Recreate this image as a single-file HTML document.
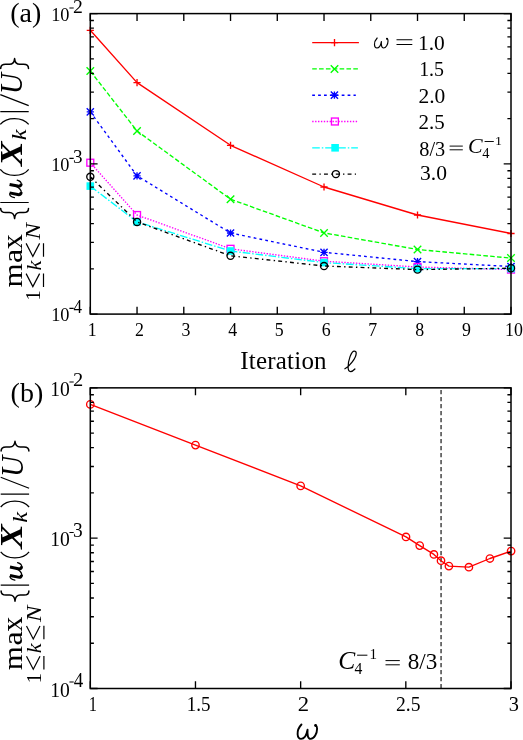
<!DOCTYPE html><html><head><meta charset="utf-8"><title>fig</title><style>html,body{margin:0;padding:0;background:#fff}svg{display:block;will-change:transform}text{font-family:"Liberation Serif",serif;fill:#000}</style></head><body>
<svg width="523" height="740" viewBox="0 0 523 740">
<rect width="523" height="740" fill="#fff"/>
<clipPath id="c1"><rect x="84.3" y="13.6" width="432.7" height="300.5"/></clipPath>
<polyline points="90.30,30.30 137.04,82.60 230.53,145.30 324.02,187.00 417.51,215.00 511.00,233.50" fill="none" stroke="#ff0000" stroke-width="1.35" stroke-linejoin="round"/>
<path d="M86.70 30.30h7.2M90.30 26.70v7.2" stroke="#ff0000" stroke-width="1.35" fill="none"/>
<path d="M133.44 82.60h7.2M137.04 79.00v7.2" stroke="#ff0000" stroke-width="1.35" fill="none"/>
<path d="M226.93 145.30h7.2M230.53 141.70v7.2" stroke="#ff0000" stroke-width="1.35" fill="none"/>
<path d="M320.42 187.00h7.2M324.02 183.40v7.2" stroke="#ff0000" stroke-width="1.35" fill="none"/>
<path d="M413.91 215.00h7.2M417.51 211.40v7.2" stroke="#ff0000" stroke-width="1.35" fill="none"/>
<path d="M507.40 233.50h7.2M511.00 229.90v7.2" stroke="#ff0000" stroke-width="1.35" fill="none"/>
<polyline points="90.30,71.10 137.04,131.00 230.53,199.20 324.02,232.90 417.51,249.50 511.00,258.10" fill="none" stroke="#00ff00" stroke-width="1.35" stroke-dasharray="4.6 2.25" stroke-linejoin="round"/>
<path d="M86.55 67.35l7.5 7.5M86.55 74.85l7.5 -7.5" stroke="#00ff00" stroke-width="1.35" fill="none"/>
<path d="M133.29 127.25l7.5 7.5M133.29 134.75l7.5 -7.5" stroke="#00ff00" stroke-width="1.35" fill="none"/>
<path d="M226.78 195.45l7.5 7.5M226.78 202.95l7.5 -7.5" stroke="#00ff00" stroke-width="1.35" fill="none"/>
<path d="M320.27 229.15l7.5 7.5M320.27 236.65l7.5 -7.5" stroke="#00ff00" stroke-width="1.35" fill="none"/>
<path d="M413.76 245.75l7.5 7.5M413.76 253.25l7.5 -7.5" stroke="#00ff00" stroke-width="1.35" fill="none"/>
<path d="M507.25 254.35l7.5 7.5M507.25 261.85l7.5 -7.5" stroke="#00ff00" stroke-width="1.35" fill="none"/>
<polyline points="90.30,111.90 137.04,175.80 230.53,233.00 324.02,252.30 417.51,261.60 511.00,266.50" fill="none" stroke="#0000ff" stroke-width="1.35" stroke-dasharray="2.75 3.15" stroke-linejoin="round"/>
<path d="M86.70 111.90h7.2M90.30 108.30v7.2M86.70 108.30l7.2 7.2M86.70 115.50l7.2 -7.2" stroke="#0000ff" stroke-width="1.35" fill="none"/>
<path d="M133.44 175.80h7.2M137.04 172.20v7.2M133.44 172.20l7.2 7.2M133.44 179.40l7.2 -7.2" stroke="#0000ff" stroke-width="1.35" fill="none"/>
<path d="M226.93 233.00h7.2M230.53 229.40v7.2M226.93 229.40l7.2 7.2M226.93 236.60l7.2 -7.2" stroke="#0000ff" stroke-width="1.35" fill="none"/>
<path d="M320.42 252.30h7.2M324.02 248.70v7.2M320.42 248.70l7.2 7.2M320.42 255.90l7.2 -7.2" stroke="#0000ff" stroke-width="1.35" fill="none"/>
<path d="M413.91 261.60h7.2M417.51 258.00v7.2M413.91 258.00l7.2 7.2M413.91 265.20l7.2 -7.2" stroke="#0000ff" stroke-width="1.35" fill="none"/>
<path d="M507.40 266.50h7.2M511.00 262.90v7.2M507.40 262.90l7.2 7.2M507.40 270.10l7.2 -7.2" stroke="#0000ff" stroke-width="1.35" fill="none"/>
<polyline points="90.30,162.70 137.04,215.00 230.53,248.80 324.02,261.20 417.51,267.00 511.00,269.60" fill="none" stroke="#ff00ff" stroke-width="1.35" stroke-dasharray="1.4 1.5" stroke-linejoin="round"/>
<rect x="86.85" y="159.25" width="6.9" height="6.9" stroke="#ff00ff" stroke-width="1.35" fill="none"/>
<rect x="133.59" y="211.55" width="6.9" height="6.9" stroke="#ff00ff" stroke-width="1.35" fill="none"/>
<rect x="227.08" y="245.35" width="6.9" height="6.9" stroke="#ff00ff" stroke-width="1.35" fill="none"/>
<rect x="320.57" y="257.75" width="6.9" height="6.9" stroke="#ff00ff" stroke-width="1.35" fill="none"/>
<rect x="414.06" y="263.55" width="6.9" height="6.9" stroke="#ff00ff" stroke-width="1.35" fill="none"/>
<rect x="507.55" y="266.15" width="6.9" height="6.9" stroke="#ff00ff" stroke-width="1.35" fill="none"/>
<polyline points="90.30,186.10 137.04,221.90 230.53,251.00 324.02,262.60 417.51,268.60 511.00,268.60" fill="none" stroke="#00ffff" stroke-width="1.35" stroke-dasharray="7.6 2 1.5 1.9" stroke-linejoin="round"/>
<rect x="86.50" y="182.30" width="7.6000000000000005" height="7.6000000000000005" fill="#00ffff"/>
<rect x="133.24" y="218.10" width="7.6000000000000005" height="7.6000000000000005" fill="#00ffff"/>
<rect x="226.73" y="247.20" width="7.6000000000000005" height="7.6000000000000005" fill="#00ffff"/>
<rect x="320.22" y="258.80" width="7.6000000000000005" height="7.6000000000000005" fill="#00ffff"/>
<rect x="413.71" y="264.80" width="7.6000000000000005" height="7.6000000000000005" fill="#00ffff"/>
<rect x="507.20" y="264.80" width="7.6000000000000005" height="7.6000000000000005" fill="#00ffff"/>
<polyline points="90.30,176.80 137.04,221.90 230.53,255.80 324.02,266.00 417.51,269.60 511.00,268.20" fill="none" stroke="#000000" stroke-width="1.35" stroke-dasharray="3.9 3.3 1.4 3.2" stroke-linejoin="round"/>
<circle cx="90.30" cy="176.80" r="3.55" stroke="#000000" stroke-width="1.35" fill="none"/>
<circle cx="137.04" cy="221.90" r="3.55" stroke="#000000" stroke-width="1.35" fill="none"/>
<circle cx="230.53" cy="255.80" r="3.55" stroke="#000000" stroke-width="1.35" fill="none"/>
<circle cx="324.02" cy="266.00" r="3.55" stroke="#000000" stroke-width="1.35" fill="none"/>
<circle cx="417.51" cy="269.60" r="3.55" stroke="#000000" stroke-width="1.35" fill="none"/>
<circle cx="511.00" cy="268.20" r="3.55" stroke="#000000" stroke-width="1.35" fill="none"/>
<polyline points="312.20,42.60 358.90,42.60" fill="none" stroke="#ff0000" stroke-width="1.35" stroke-linejoin="round"/>
<path d="M330.90 42.60h7.2M334.50 39.00v7.2" stroke="#ff0000" stroke-width="1.35" fill="none"/>
<polyline points="312.20,68.90 358.90,68.90" fill="none" stroke="#00ff00" stroke-width="1.35" stroke-dasharray="4.6 2.25" stroke-linejoin="round"/>
<path d="M330.75 65.15l7.5 7.5M330.75 72.65l7.5 -7.5" stroke="#00ff00" stroke-width="1.35" fill="none"/>
<polyline points="312.20,95.20 355.80,95.20" fill="none" stroke="#0000ff" stroke-width="1.35" stroke-dasharray="2.75 3.15" stroke-linejoin="round"/>
<path d="M330.80 95.20h7.2M334.40 91.60v7.2M330.80 91.60l7.2 7.2M330.80 98.80l7.2 -7.2" stroke="#0000ff" stroke-width="1.35" fill="none"/>
<polyline points="312.20,121.50 357.80,121.50" fill="none" stroke="#ff00ff" stroke-width="1.35" stroke-dasharray="1.4 1.5" stroke-linejoin="round"/>
<rect x="331.45" y="118.05" width="6.9" height="6.9" stroke="#ff00ff" stroke-width="1.35" fill="none"/>
<polyline points="312.20,147.80 357.90,147.80" fill="none" stroke="#00ffff" stroke-width="1.35" stroke-dasharray="7.6 2 1.5 1.9" stroke-linejoin="round"/>
<rect x="331.30" y="144.00" width="7.6000000000000005" height="7.6000000000000005" fill="#00ffff"/>
<polyline points="312.20,174.10 356.00,174.10" fill="none" stroke="#000000" stroke-width="1.35" stroke-dasharray="3.9 3.3 1.4 3.2" stroke-linejoin="round"/>
<circle cx="335.90" cy="174.10" r="3.55" stroke="#000000" stroke-width="1.35" fill="none"/>
<text transform="translate(417.92 49.60) scale(0.9986 1.0012)" font-size="21.47">1.0</text>
<text transform="translate(419.15 76.30) scale(0.9734 1.0277)" font-size="20.49">1.5</text>
<text transform="translate(418.46 102.50) scale(1.0000 1.0003)" font-size="21.49">2.0</text>
<text transform="translate(418.48 128.50) scale(0.9931 1.0073)" font-size="21.14">2.5</text>
<text transform="translate(419.33 155.59) scale(0.9691 1.0318)" font-size="20.97">8/3</text>
<text transform="translate(420.07 179.80) scale(1.0157 0.9848)" font-size="21.23">3.0</text>
<path d="M377.16 38.02C375.33 39.93 374.34 42.37 374.48 44.81C374.62 46.93 375.47 47.99 376.88 47.99C378.99 47.99 380.69 45.55 381.39 41.63C381.11 45.55 381.67 47.99 383.51 47.99C386.04 47.99 388.02 44.17 388.02 40.99C388.02 39.72 387.59 38.87 387.03 38.66" fill="none" stroke="#000" stroke-width="1.15" stroke-linecap="round" stroke-linejoin="round"/><circle cx="386.96" cy="38.71" r="0.99" fill="#000"/>
<path d="M396.5 39.7H412.3M396.5 44.5H412.3" stroke="#000" stroke-width="1.05" fill="none"/>
<path d="M449.6 146.1H462.8M449.6 149.8H462.8M484.6 141.5H493.8" stroke="#000" stroke-width="0.95" fill="none"/>
<text transform="translate(468.08 153.40) scale(1.0006 0.9998)" font-size="21.9" font-style="italic">C</text>
<text transform="translate(494.88 144.90) scale(1.0159 0.9841)" font-size="13.7">1</text>
<text transform="translate(482.22 158.10) scale(1.0208 0.9791)" font-size="14.12">4</text>
<path d="M90.30 314.1v-7.3M90.30 13.6v7.3M137.04 314.1v-7.3M137.04 13.6v7.3M230.53 314.1v-7.3M230.53 13.6v7.3M324.02 314.1v-7.3M324.02 13.6v7.3M417.51 314.1v-7.3M417.51 13.6v7.3M511.00 314.1v-7.3M511.00 13.6v7.3M183.79 314.1v-7.3M183.79 13.6v7.3M277.28 314.1v-7.3M277.28 13.6v7.3M370.77 314.1v-7.3M370.77 13.6v7.3M464.26 314.1v-7.3M464.26 13.6v7.3M90.3 13.60h7.3M511.0 13.60h-7.3M90.3 118.62h3.6M511.0 118.62h-3.6M90.3 92.16h3.6M511.0 92.16h-3.6M90.3 73.39h3.6M511.0 73.39h-3.6M90.3 58.83h3.6M511.0 58.83h-3.6M90.3 46.93h3.6M511.0 46.93h-3.6M90.3 36.87h3.6M511.0 36.87h-3.6M90.3 28.16h3.6M511.0 28.16h-3.6M90.3 20.48h3.6M511.0 20.48h-3.6M90.3 163.85h7.3M511.0 163.85h-7.3M90.3 268.87h3.6M511.0 268.87h-3.6M90.3 242.41h3.6M511.0 242.41h-3.6M90.3 223.64h3.6M511.0 223.64h-3.6M90.3 209.08h3.6M511.0 209.08h-3.6M90.3 197.18h3.6M511.0 197.18h-3.6M90.3 187.12h3.6M511.0 187.12h-3.6M90.3 178.41h3.6M511.0 178.41h-3.6M90.3 170.73h3.6M511.0 170.73h-3.6M90.3 314.10h7.3M511.0 314.10h-7.3" stroke="#000" stroke-width="1.35" fill="none"/>
<rect x="90.3" y="13.6" width="420.70" height="300.50" fill="none" stroke="#000" stroke-width="1.5"/>
<text transform="translate(51.19 20.61) scale(0.9691 1.0316)" font-size="18.89">10</text>
<text transform="translate(73.03 12.60) scale(1.0137 0.9867)" font-size="19.44">2</text>
<text transform="translate(51.19 170.72) scale(0.9863 1.0140)" font-size="18.56">10</text>
<text transform="translate(72.98 162.81) scale(1.0018 0.9980)" font-size="19.09">3</text>
<text transform="translate(51.19 321.41) scale(0.9748 1.0258)" font-size="18.78">10</text>
<text transform="translate(73.57 312.70) scale(0.9457 1.0568)" font-size="17.97">4</text>
<text transform="translate(50.18 396.09) scale(0.9643 1.0371)" font-size="20.29">10</text>
<text transform="translate(72.90 386.40) scale(1.0167 0.9834)" font-size="20.12">2</text>
<text transform="translate(50.18 546.29) scale(0.9643 1.0371)" font-size="20.29">10</text>
<text transform="translate(73.07 536.90) scale(0.9712 1.0301)" font-size="19.94">3</text>
<text transform="translate(50.18 696.59) scale(0.9576 1.0445)" font-size="20.43">10</text>
<text transform="translate(73.63 686.70) scale(0.9644 1.0371)" font-size="19.63">4</text>
<path d="M69.4 8.0H73.7M69.4 158.4H73.7M69.4 308.4H73.7M69.4 382.0H73.7M69.4 532.5H73.7M69.4 682.0H73.7" stroke="#000" stroke-width="1.1" fill="none"/>
<text transform="translate(87.79 336.15) scale(0.93 1)" font-size="19.2">1</text>
<text transform="translate(134.88 336.15) scale(0.93 1)" font-size="19.2">2</text>
<text transform="translate(181.45 336.15) scale(0.93 1)" font-size="19.2">3</text>
<text transform="translate(228.23 336.15) scale(0.93 1)" font-size="19.2">4</text>
<text transform="translate(274.84 336.15) scale(0.93 1)" font-size="19.2">5</text>
<text transform="translate(321.64 336.15) scale(0.93 1)" font-size="19.2">6</text>
<text transform="translate(368.17 336.15) scale(0.93 1)" font-size="19.2">7</text>
<text transform="translate(415.25 336.15) scale(0.93 1)" font-size="19.2">8</text>
<text transform="translate(462.07 336.15) scale(0.93 1)" font-size="19.2">9</text>
<text transform="translate(505.03 336.15) scale(0.93 1)" font-size="19.2">10</text>
<text x="240.2" y="368.7" font-size="25" textLength="86.4" lengthAdjust="spacing">Iteration</text>
<path d="M344.9 368.8C349.5 366.3 356.2 358 356.2 353.2C356.2 351.6 355.3 351.1 354.3 351.1C351.2 351.1 348.1 360.5 348.1 367.2C348.1 370 349 371.5 350.6 371.5C352.2 371.5 353.6 370.4 354.9 369" fill="none" stroke="#000" stroke-width="1.25" stroke-linecap="round"/>
<text x="10.3" y="22.2" font-size="28">(a)</text>
<text x="10.6" y="401.6" font-size="28">(b)</text>
<path d="M441.05 688.35V387.85" stroke="#000" stroke-width="1.1" stroke-dasharray="4.3 2.7" fill="none"/>
<polyline points="90.30,404.40 195.47,445.10 300.65,485.90 406.00,536.90 419.70,545.60 433.90,554.40 441.00,560.70 448.90,566.10 468.90,567.20 489.90,558.50 511.10,551.10" fill="none" stroke="#ff0000" stroke-width="1.35" stroke-linejoin="round"/>
<circle cx="90.30" cy="404.40" r="3.7" stroke="#ff0000" stroke-width="1.35" fill="none"/>
<circle cx="195.47" cy="445.10" r="3.7" stroke="#ff0000" stroke-width="1.35" fill="none"/>
<circle cx="300.65" cy="485.90" r="3.7" stroke="#ff0000" stroke-width="1.35" fill="none"/>
<circle cx="406.00" cy="536.90" r="3.7" stroke="#ff0000" stroke-width="1.35" fill="none"/>
<circle cx="419.70" cy="545.60" r="3.7" stroke="#ff0000" stroke-width="1.35" fill="none"/>
<circle cx="433.90" cy="554.40" r="3.7" stroke="#ff0000" stroke-width="1.35" fill="none"/>
<circle cx="441.00" cy="560.70" r="3.7" stroke="#ff0000" stroke-width="1.35" fill="none"/>
<circle cx="448.90" cy="566.10" r="3.7" stroke="#ff0000" stroke-width="1.35" fill="none"/>
<circle cx="468.90" cy="567.20" r="3.7" stroke="#ff0000" stroke-width="1.35" fill="none"/>
<circle cx="489.90" cy="558.50" r="3.7" stroke="#ff0000" stroke-width="1.35" fill="none"/>
<circle cx="511.10" cy="551.10" r="3.7" stroke="#ff0000" stroke-width="1.35" fill="none"/>
<path d="M90.30 688.5v-7.3M90.30 387.85v7.3M195.47 688.5v-7.3M195.47 387.85v7.3M300.65 688.5v-7.3M300.65 387.85v7.3M405.82 688.5v-7.3M405.82 387.85v7.3M511.00 688.5v-7.3M511.00 387.85v7.3M90.3 387.85h7.3M511.0 387.85h-7.3M90.3 492.92h3.6M511.0 492.92h-3.6M90.3 466.45h3.6M511.0 466.45h-3.6M90.3 447.67h3.6M511.0 447.67h-3.6M90.3 433.10h3.6M511.0 433.10h-3.6M90.3 421.20h3.6M511.0 421.20h-3.6M90.3 411.14h3.6M511.0 411.14h-3.6M90.3 402.42h3.6M511.0 402.42h-3.6M90.3 394.73h3.6M511.0 394.73h-3.6M90.3 538.17h7.3M511.0 538.17h-7.3M90.3 643.25h3.6M511.0 643.25h-3.6M90.3 616.78h3.6M511.0 616.78h-3.6M90.3 598.00h3.6M511.0 598.00h-3.6M90.3 583.43h3.6M511.0 583.43h-3.6M90.3 571.52h3.6M511.0 571.52h-3.6M90.3 561.46h3.6M511.0 561.46h-3.6M90.3 552.74h3.6M511.0 552.74h-3.6M90.3 545.05h3.6M511.0 545.05h-3.6M90.3 688.50h7.3M511.0 688.50h-7.3" stroke="#000" stroke-width="1.35" fill="none"/>
<rect x="90.3" y="387.85" width="420.70" height="300.65" fill="none" stroke="#000" stroke-width="1.5"/>
<text transform="translate(88.85 710.80) scale(0.8910 1.1224)" font-size="18.49">1</text>
<text transform="translate(186.73 710.71) scale(0.9614 1.0400)" font-size="19.82">1.5</text>
<text transform="translate(297.80 710.80) scale(1.0475 0.9548)" font-size="21.67">2</text>
<text transform="translate(396.04 710.71) scale(0.9772 1.0236)" font-size="20.08">2.5</text>
<text transform="translate(508.83 710.80) scale(0.9915 1.0087)" font-size="20.51">3</text>
<path d="M301.46 724.51C298.82 727.27 297.40 730.78 297.61 734.30C297.81 737.36 299.03 738.89 301.06 738.89C304.10 738.89 306.54 735.38 307.55 729.71C307.15 735.38 307.96 738.89 310.60 738.89C314.25 738.89 317.09 733.39 317.09 728.80C317.09 726.96 316.49 725.74 315.67 725.43" fill="none" stroke="#000" stroke-width="1.9" stroke-linecap="round" stroke-linejoin="round"/><circle cx="315.57" cy="725.51" r="1.42" fill="#000"/>
<path d="M385.5 660.6H399.8M385.5 664.8H399.8M357.1 655.2H367.4" stroke="#000" stroke-width="1.0" fill="none"/>
<text transform="translate(338.18 668.76) scale(1.0000 1.0004)" font-size="25.46" font-style="italic">C</text>
<text transform="translate(369.38 659.20) scale(0.9917 1.0079)" font-size="15.18">1</text>
<text transform="translate(354.59 673.90) scale(0.9971 1.0032)" font-size="15.75">4</text>
<text transform="translate(407.72 668.58) scale(1.0173 0.9832)" font-size="22.76">8/3</text>
<g transform="translate(0 0)"><text transform="translate(40.40 300.62) rotate(-90) scale(0.9959 1.0040)" font-size="20.82">1</text><text transform="translate(40.60 270.54) rotate(-90) scale(1.0179 0.9821)" font-size="21.72" font-style="italic">k</text><text transform="translate(40.40 239.52) rotate(-90) scale(1.0673 0.9372)" font-size="23.14" font-style="italic">N</text><text transform="translate(21.90 287.55) rotate(-90) scale(1.0526 0.9503)" font-size="29.48">m</text><text transform="translate(21.72 262.92) rotate(-90) scale(1.0639 0.9401)" font-size="29.98">a</text><text transform="translate(22.00 249.17) rotate(-90) scale(1.0258 0.9746)" font-size="29.51">x</text><text transform="translate(22.00 166.06) rotate(-90) scale(1.0908 0.9167)" font-size="33.82" font-style="italic" font-weight="bold">X</text><text transform="translate(26.10 140.20) rotate(-90) scale(1.0968 0.9121)" font-size="22.28" font-style="italic">k</text><text transform="translate(22.19 94.30) rotate(-90) scale(0.9687 1.0326)" font-size="30.31" font-style="italic">U</text><path d="M14.42 197.58Q9.43 196.62 9.71 193.84M21.35 192.74Q21.35 188.58 15.81 186.09M21.35 184.15Q21.35 181.38 17.19 180.13" fill="none" stroke="#000" stroke-width="1.3" stroke-linecap="round"/><path d="M9.57 192.88L17.74 194.54Q21.07 195.23 21.21 192.18M9.57 184.43L17.74 186.09Q21.07 186.78 21.21 183.73" fill="none" stroke="#000" stroke-width="3.0" stroke-linecap="butt" stroke-linejoin="round"/><path d="M26.1 273.59999999999997L32.85 286.59999999999997L39.6 273.59999999999997M43.5 273.4V286.9M26.1 243.39999999999998L32.85 256.4L39.6 243.39999999999998M43.5 243.2V256.7" fill="none" stroke="#000" stroke-width="1.2" stroke-linejoin="miter"/><path d="M0.3 202.5H28.7M0.3 111.6H28.7M28.7 105.6L0.3 94.6" fill="none" stroke="#000" stroke-width="1.2"/><path d="M0.3 169.3C6.5 177.30 22.5 177.30 28.7 169.3M0.3 124.4C6.5 116.67 22.5 116.67 28.7 124.4" fill="none" stroke="#000" stroke-width="1.25"/><path d="M0.7 208.39999999999998C0.7 211.39999999999998 2.6 212.5 5.6 212.5L9.4 212.5C12.4 212.5 14.3 214.5 14.6 218.60000000000002C14.9 214.5 16.8 212.5 19.8 212.5L23.6 212.5C26.6 212.5 28.5 211.39999999999998 28.5 208.39999999999998M0.7 68.39999999999999C0.7 65.39999999999999 2.6 64.3 5.6 64.3L9.4 64.3C12.4 64.3 14.3 62.3 14.6 58.6C14.9 62.3 16.8 64.3 19.8 64.3L23.6 64.3C26.6 64.3 28.5 65.39999999999999 28.5 68.39999999999999" fill="none" stroke="#000" stroke-width="1.5" stroke-linecap="round" stroke-linejoin="round"/></g>
<g transform="translate(0.4 382.6)"><text transform="translate(40.40 300.62) rotate(-90) scale(0.9959 1.0040)" font-size="20.82">1</text><text transform="translate(40.60 270.54) rotate(-90) scale(1.0179 0.9821)" font-size="21.72" font-style="italic">k</text><text transform="translate(40.40 239.52) rotate(-90) scale(1.0673 0.9372)" font-size="23.14" font-style="italic">N</text><text transform="translate(21.90 287.55) rotate(-90) scale(1.0526 0.9503)" font-size="29.48">m</text><text transform="translate(21.72 262.92) rotate(-90) scale(1.0639 0.9401)" font-size="29.98">a</text><text transform="translate(22.00 249.17) rotate(-90) scale(1.0258 0.9746)" font-size="29.51">x</text><text transform="translate(22.00 166.06) rotate(-90) scale(1.0908 0.9167)" font-size="33.82" font-style="italic" font-weight="bold">X</text><text transform="translate(26.10 140.20) rotate(-90) scale(1.0968 0.9121)" font-size="22.28" font-style="italic">k</text><text transform="translate(22.19 94.30) rotate(-90) scale(0.9687 1.0326)" font-size="30.31" font-style="italic">U</text><path d="M14.42 197.58Q9.43 196.62 9.71 193.84M21.35 192.74Q21.35 188.58 15.81 186.09M21.35 184.15Q21.35 181.38 17.19 180.13" fill="none" stroke="#000" stroke-width="1.3" stroke-linecap="round"/><path d="M9.57 192.88L17.74 194.54Q21.07 195.23 21.21 192.18M9.57 184.43L17.74 186.09Q21.07 186.78 21.21 183.73" fill="none" stroke="#000" stroke-width="3.0" stroke-linecap="butt" stroke-linejoin="round"/><path d="M26.1 273.59999999999997L32.85 286.59999999999997L39.6 273.59999999999997M43.5 273.4V286.9M26.1 243.39999999999998L32.85 256.4L39.6 243.39999999999998M43.5 243.2V256.7" fill="none" stroke="#000" stroke-width="1.2" stroke-linejoin="miter"/><path d="M0.3 202.5H28.7M0.3 111.6H28.7M28.7 105.6L0.3 94.6" fill="none" stroke="#000" stroke-width="1.2"/><path d="M0.3 169.3C6.5 177.30 22.5 177.30 28.7 169.3M0.3 124.4C6.5 116.67 22.5 116.67 28.7 124.4" fill="none" stroke="#000" stroke-width="1.25"/><path d="M0.7 208.39999999999998C0.7 211.39999999999998 2.6 212.5 5.6 212.5L9.4 212.5C12.4 212.5 14.3 214.5 14.6 218.60000000000002C14.9 214.5 16.8 212.5 19.8 212.5L23.6 212.5C26.6 212.5 28.5 211.39999999999998 28.5 208.39999999999998M0.7 68.39999999999999C0.7 65.39999999999999 2.6 64.3 5.6 64.3L9.4 64.3C12.4 64.3 14.3 62.3 14.6 58.6C14.9 62.3 16.8 64.3 19.8 64.3L23.6 64.3C26.6 64.3 28.5 65.39999999999999 28.5 68.39999999999999" fill="none" stroke="#000" stroke-width="1.5" stroke-linecap="round" stroke-linejoin="round"/></g>
</svg></body></html>
